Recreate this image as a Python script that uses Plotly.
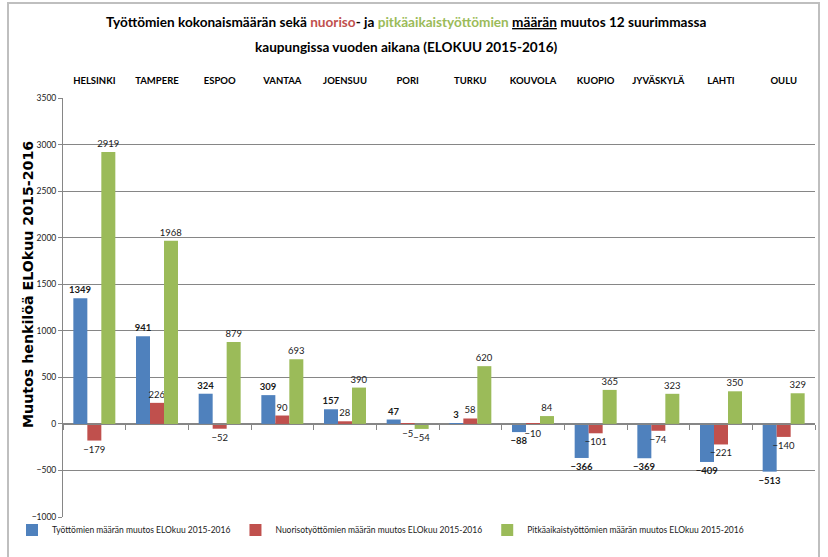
import plotly.graph_objects as go

cities = ["HELSINKI", "TAMPERE", "ESPOO", "VANTAA", "JOENSUU", "PORI",
          "TURKU", "KOUVOLA", "KUOPIO", "JYVÄSKYLÄ", "LAHTI", "OULU"]
total_change = [1349, 941, 324, 309, 157, 47, 3, -88, -366, -369, -409, -513]
youth_change = [-179, 226, -52, 90, 28, -5, 58, -10, -101, -74, -221, -140]
longterm_change = [2919, 1968, 879, 693, 390, -54, 620, 84, 365, 323, 350, 329]

series_names = [
    "Työttömien määrän muutos ELOkuu 2015-2016",
    "Nuorisotyöttömien määrän muutos ELOkuu 2015-2016",
    "Pitkäaikaistyöttömien määrän muutos ELOkuu 2015-2016",
]
colors = ["#4F81BD", "#C0504D", "#9BBB59"]
y_ticks = [-1000, -500, 0, 500, 1000, 1500, 2000, 2500, 3000, 3500]

title_line1 = ("Työttömien kokonaismäärän sekä <span style='color:#C0504D'>nuoriso</span>- ja "
               "<span style='color:#9BBB59'>pitkäaikaistyöttömien</span> <u>määrän</u> muutos 12 suurimmassa")
title_line2 = "kaupungissa vuoden aikana (ELOKUU 2015-2016)"
y_title = "Muutos henkilöä ELOkuu 2015-2016"

NARROW = "Lato, Roboto, sans-serif"

W, H = 828, 557
L, R, T, B = 63, 13, 98, 40
PW, PH = W - L - R, H - T - B


def px_x(px):
    return (px - L) / PW


def px_y(py):
    return (H - B - py) / PH


fig = go.Figure()
for name, vals, col, bold in zip(series_names,
                                 [total_change, youth_change, longterm_change],
                                 colors, [True, False, False]):
    fig.add_trace(go.Bar(
        x=cities, y=vals, name=name,
        marker=dict(color=col, line=dict(width=0)),
        text=vals,
        texttemplate="<b>%{y}</b>" if bold else "%{y}",
        textposition="outside",
        constraintext="none",
        cliponaxis=False,
        textfont=dict(family=NARROW, size=9.5, color="#1a1a1a"),
        xaxis="x", yaxis="y",
    ))

# invisible trace to carry top category labels
fig.add_trace(go.Scatter(x=cities, y=[None] * len(cities), xaxis="x2", yaxis="y",
                         showlegend=False, hoverinfo="skip", mode="markers"))

zero_pos = (0 - y_ticks[0]) / (y_ticks[-1] - y_ticks[0])

fig.update_layout(
    width=W, height=H,
    margin=dict(l=L, r=R, t=T, b=B, autoexpand=False),
    paper_bgcolor="white", plot_bgcolor="white",
    barmode="group", bargap=0.33, bargroupgap=0,
    font=dict(family=NARROW, color="#1a1a1a"),
    xaxis=dict(type="category", categoryarray=cities, range=[-0.5, 11.5],
               anchor="free", position=zero_pos, showline=True, linecolor="#868686",
               linewidth=1, ticks="outside", tickson="boundaries", ticklen=5,
               tickcolor="#868686", showticklabels=False, showgrid=False, zeroline=False,
               automargin=False),
    xaxis2=dict(type="category", categoryarray=cities, range=[-0.5, 11.5],
                overlaying="x", side="top", anchor="y", showline=False, ticks="",
                showgrid=False, zeroline=False, tickangle=0, automargin=False,
                tickfont=dict(family=NARROW, size=9.5, color="black", weight="bold"),
                ticklabelstandoff=11),
    yaxis=dict(range=[y_ticks[0], y_ticks[-1]], tickvals=y_ticks,
               showgrid=True, gridcolor="#868686", gridwidth=1,
               zeroline=True, zerolinecolor="#868686", zerolinewidth=1,
               showline=True, linecolor="#868686", linewidth=1,
               ticks="outside", ticklen=4, tickcolor="#868686", automargin=False,
               tickfont=dict(family=NARROW, size=8.5, color="#1a1a1a")),
    legend=dict(orientation="h", x=12 / W, xref="container", xanchor="left",
                y=px_y(530), yanchor="middle", font=dict(family=NARROW, size=8.5, color="#1a1a1a"),
                itemwidth=30, tracegroupgap=0, bgcolor="rgba(0,0,0,0)"),
    showlegend=True,
)

# title lines
fig.add_annotation(text="<b>" + title_line1 + "</b>", xref="paper", yref="paper",
                   x=px_x(406), y=px_y(22), xanchor="center", yanchor="middle",
                   showarrow=False, font=dict(family=NARROW, size=13.6, color="black"))
fig.add_annotation(text="<b>" + title_line2 + "</b>", xref="paper", yref="paper",
                   x=px_x(406), y=px_y(47), xanchor="center", yanchor="middle",
                   showarrow=False, font=dict(family=NARROW, size=13.6, color="black"))
# y-axis title
fig.add_annotation(text="<b>" + y_title + "</b>", xref="paper", yref="paper",
                   x=px_x(28), y=px_y(285), xanchor="center", yanchor="middle",
                   textangle=-90, showarrow=False,
                   font=dict(family="DejaVu Sans, Verdana, sans-serif", size=14.2, color="black"))

# outer chart frame
fig.add_shape(type="rect", xref="paper", yref="paper",
              x0=px_x(8), x1=px_x(819), y0=px_y(575), y1=px_y(3),
              line=dict(color="#BFBFBF", width=2), fillcolor="rgba(0,0,0,0)", layer="below")

fig.write_html("out.html", config={"displayModeBar": False})

# remove the browser's default body margin so the figure sits at the page origin
with open("out.html", "r", encoding="utf-8") as f:
    html = f.read()
html = html.replace("<body>", "<body style=\"margin:0;padding:0;\">", 1)
with open("out.html", "w", encoding="utf-8") as f:
    f.write(html)
